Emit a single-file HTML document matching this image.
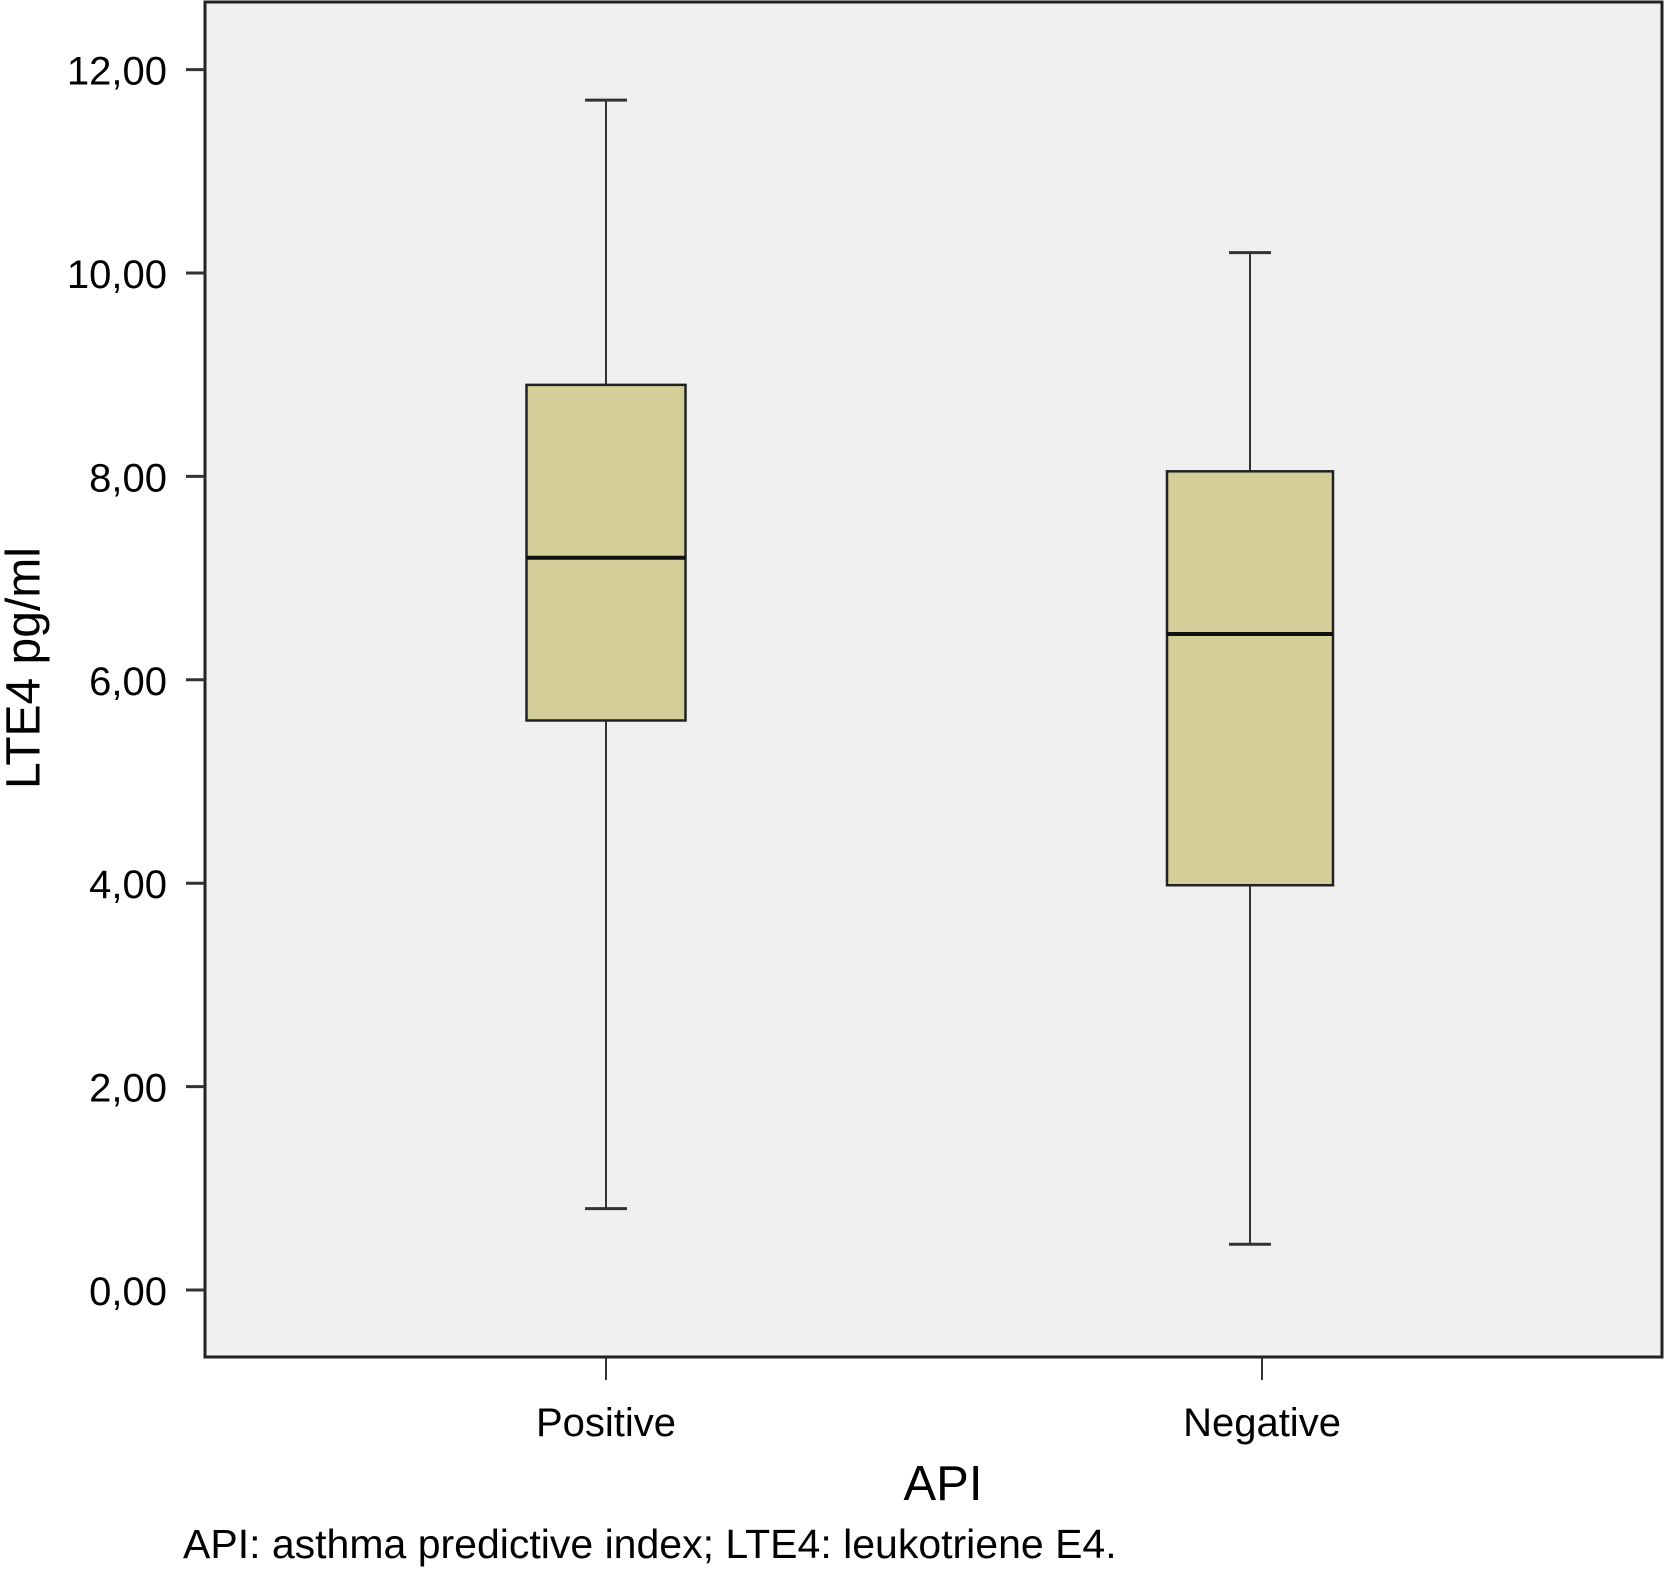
<!DOCTYPE html>
<html><head><meta charset="utf-8"><style>
html,body{margin:0;padding:0;background:#fff;}
svg{display:block;font-family:"Liberation Sans",sans-serif;}
</style></head><body>
<svg id="chart" width="1664" height="1570" viewBox="0 0 1664 1570">
<rect x="205" y="2" width="1457" height="1355" fill="#f0f0f0" stroke="#222" stroke-width="3"/>
<g id="yaxis"></g>
<g id="xaxis"></g>
<g id="boxes"></g>
<text x="27" y="668" font-size="48" text-anchor="middle" dominant-baseline="middle" transform="rotate(-90 27 668)">LTE4 pg/ml</text>
<text x="943" y="1500" font-size="49" text-anchor="middle">API</text>
<text x="183" y="1558" font-size="41">API: asthma predictive index; LTE4: leukotriene E4.</text>
</svg>
<script>
const categories = ["Positive", "Negative"];
const whiskerMax = [11.7, 10.2];
const q3 = [8.9, 8.05];
const medians = [7.2, 6.45];
const q1 = [5.6, 3.98];
const whiskerMin = [0.8, 0.45];
const yTicks = [0, 2, 4, 6, 8, 10, 12];
const yTickLabels = ["0,00", "2,00", "4,00", "6,00", "8,00", "10,00", "12,00"];

const NS = "http://www.w3.org/2000/svg";
const y = v => 1290 - v * 101.7;
const tickX = i => 606 + i * 656;
const boxX = i => 606 + i * 644;
const boxW = [159, 166];
function mk(tag, attrs, parent) {
  const e = document.createElementNS(NS, tag);
  for (const k in attrs) e.setAttribute(k, attrs[k]);
  parent.appendChild(e);
  return e;
}
const ya = document.getElementById("yaxis");
yTicks.forEach((t, i) => {
  const l = mk("line", {x1: 186, x2: 205, y1: y(t), y2: y(t), stroke: "#333", "stroke-width": 3}, ya);
  
  
  const tx = mk("text", {x: 167, y: y(t) + 15, "font-size": 40, "text-anchor": "end"}, ya);
  tx.textContent = yTickLabels[i];
  
  
});
const xa = document.getElementById("xaxis");
const bx = document.getElementById("boxes");
categories.forEach((c, i) => {
  const tx0 = tickX(i);
  const tk = mk("line", {x1: tx0, x2: tx0, y1: 1358, y2: 1380, stroke: "#333", "stroke-width": 2}, xa);
  
  
  const lb = mk("text", {x: tx0, y: 1436, "font-size": 40, "text-anchor": "middle"}, xa);
  lb.textContent = c;
  
  
  const cx = boxX(i);
  const hw = boxW[i] / 2;
  const g = mk("g", {}, bx);
  
  
  const w1 = mk("line", {x1: cx, x2: cx, y1: y(whiskerMax[i]), y2: y(q3[i]), stroke: "#333", "stroke-width": 2}, g);
  
  
  const w2 = mk("line", {x1: cx, x2: cx, y1: y(q1[i]), y2: y(whiskerMin[i]), stroke: "#333", "stroke-width": 2}, g);
  
  
  [whiskerMax[i], whiskerMin[i]].forEach(v => {
    const cap = mk("line", {x1: cx - 21, x2: cx + 21, y1: y(v), y2: y(v), stroke: "#333", "stroke-width": 3}, g);
    
    
  });
  const r = mk("rect", {x: cx - hw, y: y(q3[i]), width: boxW[i], height: y(q1[i]) - y(q3[i]), fill: "#d4cf98", stroke: "#222", "stroke-width": 2.5}, g);
  
  
  const m = mk("line", {x1: cx - hw, x2: cx + hw, y1: y(medians[i]), y2: y(medians[i]), stroke: "#111", "stroke-width": 4}, g);
  
  
});
</script>
</body></html>
